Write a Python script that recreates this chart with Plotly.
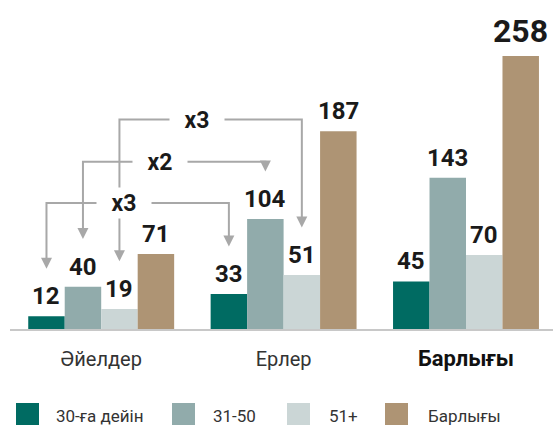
import plotly.graph_objects as go

# categories and series
cats = ["Әйелдер", "Ерлер", "Барлығы"]
series = ["30-ға дейін", "31-50", "51+", "Барлығы"]
v_30 = [12, 33, 45]
v_3150 = [40, 104, 143]
v_51 = [19, 51, 70]
v_total = [71, 187, 258]
values = [v_30, v_3150, v_51, v_total]

# ratio connectors: (series index, label) between women and men
ratio_series = [0, 1, 2]
ratio_labels = ["x3", "x2", "x3"]

colors = ["#006b62", "#91abab", "#cbd6d6", "#ae9474"]
grey = "#a8a8a8"
W, H = 553, 425
L, T, B = 10, 0, 96
PW, PH = W - L, H - T - B

def px_x(p):
    return (p - L) / PW

def px_y(p):
    return (H - B - p) / PH

n = len(series)
bw = 0.8 / n
xs = list(range(len(cats)))

fig = go.Figure()
for j, name in enumerate(series):
    fig.add_trace(go.Bar(x=xs, y=values[j], name=name, marker_color=colors[j],
                         marker_line_width=0, showlegend=False, hoverinfo="skip"))

annotations = []
# value labels
for j in range(n):
    for i, v in enumerate(values[j]):
        big = (i == len(cats) - 1 and j == n - 1)
        annotations.append(dict(x=i + (j - (n - 1) / 2) * bw, y=v, text=str(v),
                                showarrow=False, yanchor="middle",
                                yshift=25 if big else 20,
                                font=dict(size=32 if big else 24, color="#1a1a1a",
                                          family="Roboto", weight="bold")))

# connectors
levels = [119, 158, 198]
shapes = []
for k, j in enumerate(ratio_series):
    x0 = 0 + (j - (n - 1) / 2) * bw
    x1 = 1 + (j - (n - 1) / 2) * bw
    t0 = values[j][0] + 45
    t1 = values[j][1] + 45
    lv = levels[k]
    shapes.append(dict(type="path", xref="x", yref="y",
                       path=f"M{x0},{t0 + 8} L{x0},{lv} L{x1},{lv} L{x1},{t1 + 8}",
                       line=dict(color=grey, width=2)))
    for xx, tt in [(x0, t0), (x1, t1)]:
        annotations.append(dict(x=xx, y=tt, ax=0, ay=-11, text="", showarrow=True,
                                arrowhead=2, arrowsize=1.1, arrowwidth=2,
                                arrowcolor=grey))
    annotations.append(dict(x=(x0 + x1) / 2 - 0.075, y=lv, text=ratio_labels[k],
                            showarrow=False, bgcolor="white", width=52, height=28,
                            font=dict(size=23, color="#1a1a1a", family="Roboto",
                                      weight="bold")))

# legend drawn manually for large square swatches
sw_x = [16, 172, 287, 385]
tx_x = [54, 211, 327, 426]
for j, name in enumerate(series):
    shapes.append(dict(type="rect", xref="paper", yref="paper",
                       x0=px_x(sw_x[j]), x1=px_x(sw_x[j] + 23),
                       y0=px_y(403), y1=px_y(426),
                       fillcolor=colors[j], line_width=0))
    annotations.append(dict(xref="paper", yref="paper", x=px_x(tx_x[j]), y=px_y(416),
                            xanchor="left", yanchor="middle", text=name,
                            showarrow=False,
                            font=dict(size=17, color="#333333", family="Roboto")))

ticktext = cats[:-1] + [f"<b><span style='font-size:22px;color:#111111'>{cats[-1]}</span></b>"]

fig.update_layout(
    width=W, height=H,
    margin=dict(l=L, r=0, t=T, b=B),
    barmode="group", bargap=0.2, bargroupgap=0,
    plot_bgcolor="white", paper_bgcolor="white",
    font=dict(family="Roboto", color="#333333"),
    showlegend=False,
    xaxis=dict(range=[-0.5, 2.477], tickvals=xs, ticktext=ticktext,
               showline=True, linecolor="#c8c8c8", linewidth=2,
               showgrid=False, zeroline=False, ticks="", ticklabelstandoff=11,
               tickfont=dict(size=20, color="#333333")),
    yaxis=dict(range=[0, 311], visible=False),
    annotations=annotations,
    shapes=shapes,
)

fig.write_html("out.html", config={"displayModeBar": False},
               post_script="document.body.style.margin='0';")
